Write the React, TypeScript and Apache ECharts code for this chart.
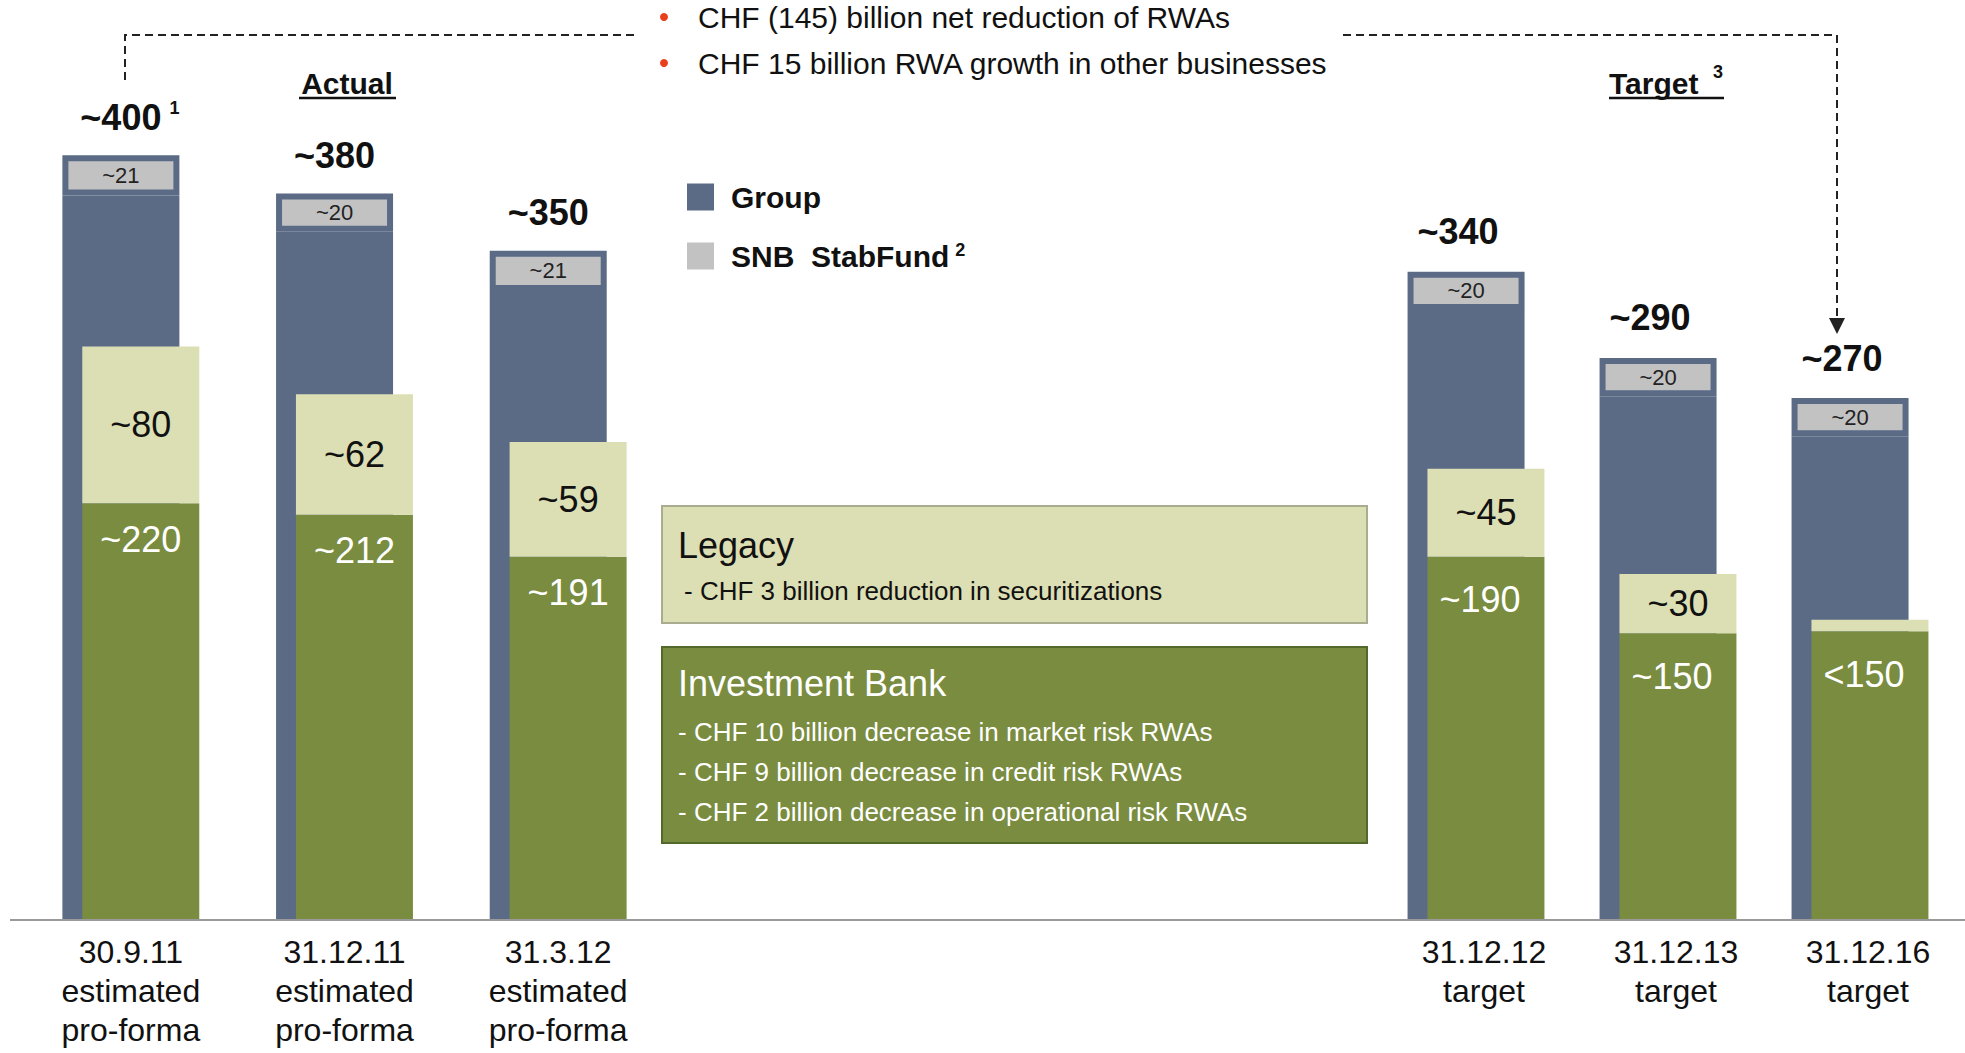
import React, { useEffect, useRef } from "react";
import * as echarts from "echarts";

const FONT = "'Liberation Sans', Arial, Helvetica, sans-serif";

const categories = [
  "30.9.11\nestimated\npro-forma",
  "31.12.11\nestimated\npro-forma",
  "31.3.12\nestimated\npro-forma",
  "31.12.12\ntarget",
  "31.12.13\ntarget",
  "31.12.16\ntarget",
];
const groupTotals = [400, 380, 350, 339, 294, 273];
const snbValues = [21, 20, 21, 20, 20, 20];
const ibValues = [218, 212, 190, 190, 150, 151];
const legacyValues = [82, 63, 60, 46, 31, 6];

const totalLabels = ["~400", "~380", "~350", "~340", "~290", "~270"];
const snbLabels = ["~21", "~20", "~21", "~20", "~20", "~20"];
const ibLabels = ["~220", "~212", "~191", "~190", "~150", "<150"];
const legacyLabels = ["~80", "~62", "~59", "~45", "~30", ""];

const topBullets = [
  "CHF (145) billion net reduction of RWAs",
  "CHF 15 billion RWA growth in other businesses",
];
const legacyLines = ["- CHF 3 billion reduction in securitizations"];
const ibLines = [
  "- CHF 10 billion decrease in market risk RWAs",
  "- CHF 9 billion decrease in credit risk RWAs",
  "- CHF 2 billion decrease in operational risk RWAs",
];

const BLUE = "#5b6b86";
const GREY = "#c2c2c2";
const GREEN = "#7a8c40";
const LIGHT = "#dcdfb3";
const TEXT = "#111111";

function seriesFor(g: number, from: number, to: number) {
  const common = {
    type: "bar",
    xAxisIndex: g,
    yAxisIndex: g,
    barWidth: 117,
    barGap: "-83%",
    silent: true,
  };
  const body = groupTotals.map((t, i) => t - snbValues[i]).slice(from, to);
  return [
    {
      ...common,
      name: "Group",
      stack: "g" + g,
      data: body,
      itemStyle: { color: BLUE },
    },
    {
      ...common,
      name: "SNB StabFund",
      stack: "g" + g,
      data: snbValues.slice(from, to),
      itemStyle: { color: GREY, borderColor: BLUE, borderWidth: 6 },
      label: {
        show: true,
        position: "inside",
        formatter: (p: any) => snbLabels[from + p.dataIndex],
        fontSize: 22,
        fontFamily: FONT,
        color: "#222",
      },
    },
    {
      ...common,
      name: "Total",
      stack: "g" + g,
      data: snbValues.slice(from, to).map(() => 0),
      itemStyle: { color: "rgba(0,0,0,0)" },
      label: {
        show: true,
        position: "top",
        distance: g === 0 ? 20 : 22,
        offset: g === 0 ? [0, 0] : [-8, 0],
        formatter: (p: any) =>
          from + p.dataIndex === 0
            ? "{pad|}" + totalLabels[0] + "{sup|1}"
            : totalLabels[from + p.dataIndex],
        fontSize: 36,
        fontWeight: "bold",
        fontFamily: FONT,
        color: TEXT,
        rich: {
          pad: { width: 18 },
          sup: {
            fontSize: 18,
            fontFamily: FONT,
            color: TEXT,
            verticalAlign: "top",
            padding: [0, 0, 0, 8],
          },
        },
      },
    },
    {
      ...common,
      name: "Investment Bank",
      stack: "f" + g,
      data: ibValues.slice(from, to),
      itemStyle: { color: GREEN },
      label: {
        show: true,
        position: "insideTop",
        distance: g === 0 ? 18 : 25,
        offset: g === 0 ? [0, 0] : [-6, 0],
        formatter: (p: any) => ibLabels[from + p.dataIndex],
        fontSize: 36,
        fontFamily: FONT,
        color: "#ffffff",
      },
    },
    {
      ...common,
      name: "Legacy",
      stack: "f" + g,
      data: legacyValues.slice(from, to),
      itemStyle: { color: LIGHT },
      label: {
        show: true,
        position: "inside",
        formatter: (p: any) => legacyLabels[from + p.dataIndex],
        fontSize: 36,
        fontFamily: FONT,
        color: TEXT,
      },
    },
  ];
}

export default function App() {
  const ref = useRef<HTMLDivElement>(null);
  useEffect(() => {
    document.body.style.margin = "0";
    if (!ref.current) return;
    const chart = echarts.init(ref.current, undefined, { renderer: "svg" });
    const dash = { stroke: "#222", lineWidth: 2, lineDash: [8, 5], fill: null };
    const graphic: any[] = [
      // baseline
      { type: "line", shape: { x1: 10, y1: 920, x2: 1965, y2: 920 }, style: { stroke: "#9a9a9a", lineWidth: 2 }, z: 10 },
      // dashed connectors
      { type: "polyline", shape: { points: [[125, 80], [125, 35], [639, 35]] }, style: dash },
      { type: "polyline", shape: { points: [[1343, 35], [1837, 35], [1837, 320]] }, style: dash },
      { type: "polygon", shape: { points: [[1829, 318], [1845, 318], [1837, 334]] }, style: { fill: "#222" } },
      // top bullets
      ...topBullets.flatMap((t, i) => [
        { type: "circle", shape: { cx: 664, cy: 17 + i * 46, r: 4 }, style: { fill: "#e8401c" } },
        {
          type: "text",
          x: 698,
          y: 17 + i * 46,
          style: { text: t, fontSize: 30, fontFamily: FONT, fill: TEXT, verticalAlign: "middle" },
        },
      ]),
      // Actual / Target headings
      {
        type: "text",
        x: 347,
        y: 83,
        style: { text: "Actual", fontSize: 30, fontWeight: "bold", fontFamily: FONT, fill: TEXT, align: "center", verticalAlign: "middle" },
      },
      { type: "line", shape: { x1: 299, y1: 98, x2: 396, y2: 98 }, style: { stroke: TEXT, lineWidth: 2.5 } },
      {
        type: "text",
        x: 1609,
        y: 83,
        style: { text: "Target", fontSize: 30, fontWeight: "bold", fontFamily: FONT, fill: TEXT, verticalAlign: "middle" },
      },
      {
        type: "text",
        x: 1713,
        y: 72,
        style: { text: "3", fontSize: 18, fontWeight: "bold", fontFamily: FONT, fill: TEXT, verticalAlign: "middle" },
      },
      { type: "line", shape: { x1: 1609, y1: 98, x2: 1724, y2: 98 }, style: { stroke: TEXT, lineWidth: 2.5 } },
      // Legacy box
      {
        type: "rect",
        shape: { x: 662, y: 506, width: 705, height: 117 },
        style: { fill: LIGHT, stroke: "#a9ac8e", lineWidth: 2 },
      },
      {
        type: "text",
        x: 678,
        y: 545,
        style: { text: "Legacy", fontSize: 36, fontFamily: FONT, fill: TEXT, verticalAlign: "middle" },
      },
      ...legacyLines.map((t, i) => ({
        type: "text",
        x: 684,
        y: 591 + i * 40,
        style: { text: t, fontSize: 26, fontFamily: FONT, fill: TEXT, verticalAlign: "middle" },
      })),
      // Investment Bank box
      {
        type: "rect",
        shape: { x: 662, y: 647, width: 705, height: 196 },
        style: { fill: GREEN, stroke: "#53692c", lineWidth: 2 },
      },
      {
        type: "text",
        x: 678,
        y: 683,
        style: { text: "Investment Bank", fontSize: 36, fontFamily: FONT, fill: "#ffffff", verticalAlign: "middle" },
      },
      ...ibLines.map((t, i) => ({
        type: "text",
        x: 678,
        y: 732 + i * 40,
        style: { text: t, fontSize: 26, fontFamily: FONT, fill: "#ffffff", verticalAlign: "middle" },
      })),
    ];

    const axisLabel = {
      fontSize: 32,
      lineHeight: 39,
      fontFamily: FONT,
      color: TEXT,
      margin: 12,
      interval: 0,
    };

    chart.setOption({
      animation: false,
      backgroundColor: "#ffffff",
      textStyle: { fontFamily: FONT },
      grid: [
        { left: 24, width: 641, top: 117, bottom: 133 },
        { left: 1380, width: 576, top: 117, bottom: 133 },
      ],
      xAxis: [
        {
          gridIndex: 0,
          type: "category",
          data: categories.slice(0, 3),
          axisLine: { show: false },
          axisTick: { show: false },
          axisLabel,
        },
        {
          gridIndex: 1,
          type: "category",
          data: categories.slice(3),
          axisLine: { show: false },
          axisTick: { show: false },
          axisLabel: { ...axisLabel, padding: [0, 0, 0, 16] },
        },
      ],
      yAxis: [
        { gridIndex: 0, type: "value", min: 0, max: 420, show: false },
        { gridIndex: 1, type: "value", min: 0, max: 420, show: false },
      ],
      legend: {
        data: ["Group", "SNB StabFund"],
        orient: "vertical",
        left: 682,
        top: 177,
        itemWidth: 27,
        itemHeight: 27,
        itemGap: 29,
        icon: "rect",
        itemStyle: { borderWidth: 0 },
        selectedMode: false,
        formatter: (name: string) =>
          name === "SNB StabFund" ? "SNB  StabFund{sup|2}" : name,
        textStyle: {
          fontSize: 30,
          fontWeight: "bold",
          fontFamily: FONT,
          color: TEXT,
          padding: [0, 0, 0, 12],
          rich: {
            sup: {
              fontSize: 18,
              fontWeight: "bold",
              fontFamily: FONT,
              color: TEXT,
              verticalAlign: "top",
              padding: [0, 0, 0, 6],
            },
          },
        },
      },
      series: [...seriesFor(0, 0, 3), ...seriesFor(1, 3, 6)],
      graphic,
    });
    return () => chart.dispose();
  }, []);
  return <div ref={ref} style={{ width: 1965, height: 1053 }} />;
}
